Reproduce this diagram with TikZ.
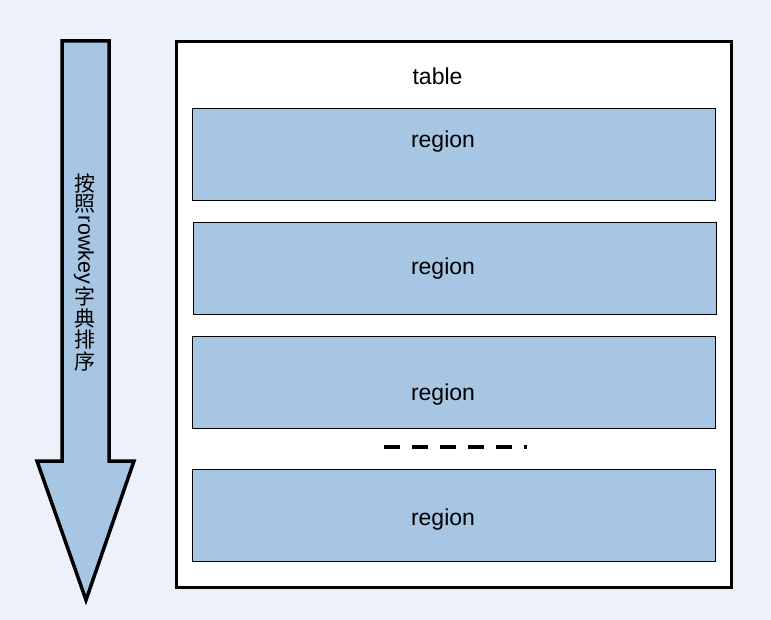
\documentclass[tikz,border=0pt]{standalone}
\usepackage{fontspec}
\setmainfont{Liberation Sans}
\newfontfamily\cjk{Noto Sans CJK SC}
\definecolor{bgc}{HTML}{EDF2FA}
\definecolor{regc}{HTML}{A7C6E4}
\begin{document}
\begin{tikzpicture}[x=1pt,y=-1pt,
  regbox/.style={draw=black,line width=0.8pt,fill=regc},
  lbl/.style={font=\fontsize{23}{25}\selectfont,inner sep=0pt,anchor=base},
  cj/.style={font=\cjk\fontsize{21}{22}\selectfont,inner sep=0pt}]
\fill[bgc] (0,0) rectangle (771,620);
\useasboundingbox (0,0) rectangle (771,620);
% arrow
\draw[line width=3.5pt,fill=regc,line join=miter]
  (62,41) -- (109,41) -- (109,461) -- (134,461) -- (86,600) -- (37,461) -- (62,461) -- cycle;
\node[cj] (c1) at (85,183) {按};
\node[cj] (c2) at (85,204) {照};
\node[inner sep=0pt,font=\fontsize{21.5}{22}\selectfont,rotate=-90] (rk) at (84,250) {rowkey};
\node[cj] (c3) at (85,296) {字};
\node[cj] (c4) at (85,318) {典};
\node[cj] (c5) at (85,340) {排};
\node[cj] (c6) at (85,361) {序};
% table
\draw[line width=3.5pt,fill=white] (176.5,41.5) rectangle (731.5,587.5);
\node[lbl] (t) at (437.5,85) {table};
\draw[regbox] (192.5,108.5) rectangle (715.5,200.5);
\node[lbl] (r1) at (443,148) {region};
\draw[regbox] (193.5,222.5) rectangle (716.5,314.5);
\node[lbl] (r2) at (443,275) {region};
\draw[regbox] (192.5,336.5) rectangle (715.5,428.5);
\node[lbl] (r3) at (443,400) {region};
\draw[regbox] (192.5,469.5) rectangle (715.5,561.5);
\node[lbl] (r4) at (443,525) {region};
% dashes
\coordinate (d1) at (384,447);
\coordinate (d2) at (527,447);
\draw[line width=3.5pt,dash pattern=on 16pt off 12pt] (d1) -- (d2);
\end{tikzpicture}
\end{document}
